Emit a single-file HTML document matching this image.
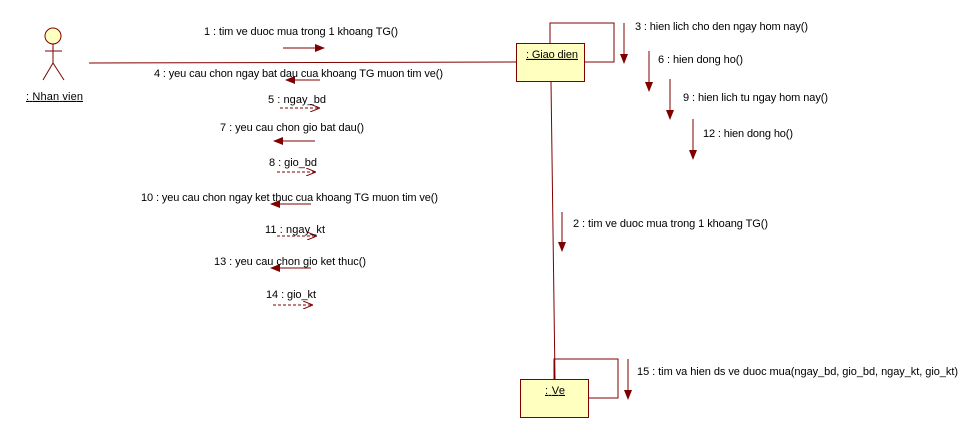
<!DOCTYPE html>
<html><head><style>body{margin:0;background:#fff}svg{display:block}text{font-family:"Liberation Sans",sans-serif;font-size:11px;fill:#000;dominant-baseline:middle}</style></head>
<body>
<svg width="978" height="438" viewBox="0 0 978 438">
<defs>
<marker id="f" markerWidth="10" markerHeight="8" refX="9" refY="4" orient="auto" markerUnits="userSpaceOnUse"><path d="M0,0 L10,4 L0,8 Z" fill="#800000"/></marker>
<marker id="o" markerWidth="10" markerHeight="8" refX="9" refY="4" orient="auto" markerUnits="userSpaceOnUse"><path d="M0,0 L10,4 L0,8" fill="none" stroke="#800000"/></marker>
</defs>
<g stroke="#800000" fill="none" stroke-width="1">
<!-- actor -->
<circle cx="53" cy="36" r="8" fill="#ffffc0"/>
<line x1="53" y1="44" x2="53" y2="63"/><line x1="45" y1="51" x2="62" y2="51"/>
<line x1="53" y1="63" x2="43" y2="80"/><line x1="53" y1="63" x2="64" y2="80"/>
<line x1="89" y1="63" x2="516" y2="62"/>
<!-- Giao dien -->
<rect x="516.5" y="43.5" width="68" height="38" fill="#ffffc0"/>
<path d="M550,43 V23 H614 V62 H585"/>
<line x1="551" y1="82" x2="555" y2="379"/>
<rect x="520.5" y="379.5" width="68" height="38" fill="#ffffc0"/>
<path d="M554,379 V359 H618 V398 H589"/>
<!-- messages -->
<line x1="283" y1="48" x2="324" y2="48" marker-end="url(#f)"/>
<line x1="320" y1="80" x2="286" y2="80" marker-end="url(#f)"/>
<line x1="280" y1="108" x2="319" y2="108" stroke-dasharray="3,2" marker-end="url(#o)"/>
<line x1="315" y1="141" x2="274" y2="141" marker-end="url(#f)"/>
<line x1="277" y1="172" x2="315" y2="172" stroke-dasharray="3,2" marker-end="url(#o)"/>
<line x1="311" y1="204" x2="271" y2="204" marker-end="url(#f)"/>
<line x1="277" y1="236" x2="316" y2="236" stroke-dasharray="3,2" marker-end="url(#o)"/>
<line x1="311" y1="268" x2="271" y2="268" marker-end="url(#f)"/>
<line x1="273" y1="305" x2="312" y2="305" stroke-dasharray="3,2" marker-end="url(#o)"/>
<line x1="624" y1="23" x2="624" y2="63" marker-end="url(#f)"/>
<line x1="649" y1="51" x2="649" y2="91" marker-end="url(#f)"/>
<line x1="670" y1="79" x2="670" y2="119" marker-end="url(#f)"/>
<line x1="693" y1="119" x2="693" y2="159" marker-end="url(#f)"/>
<line x1="562" y1="212" x2="562" y2="251" marker-end="url(#f)"/>
<line x1="628" y1="359" x2="628" y2="399" marker-end="url(#f)"/>
</g>
<text x="26" y="97" textLength="57" text-decoration="underline">: Nhan vien</text>
<text x="526" y="55" textLength="52" text-decoration="underline">: Giao dien</text>
<text x="545" y="391" textLength="20" text-decoration="underline">: Ve</text>
<text x="204" y="32" textLength="194">1 : tim ve duoc mua trong 1 khoang TG()</text>
<text x="154" y="74" textLength="289">4 : yeu cau chon ngay bat dau cua khoang TG muon tim ve()</text>
<text x="268" y="100" textLength="58">5 : ngay_bd</text>
<text x="220" y="128" textLength="144">7 : yeu cau chon gio bat dau()</text>
<text x="269" y="163" textLength="48">8 : gio_bd</text>
<text x="141" y="198" textLength="297">10 : yeu cau chon ngay ket thuc cua khoang TG muon tim ve()</text>
<text x="265" y="230" textLength="60">11 : ngay_kt</text>
<text x="214" y="262" textLength="152">13 : yeu cau chon gio ket thuc()</text>
<text x="266" y="295" textLength="50">14 : gio_kt</text>
<text x="635" y="27" textLength="173">3 : hien lich cho den ngay hom nay()</text>
<text x="658" y="60" textLength="85">6 : hien dong ho()</text>
<text x="683" y="98" textLength="145">9 : hien lich tu ngay hom nay()</text>
<text x="703" y="134" textLength="90">12 : hien dong ho()</text>
<text x="573" y="224" textLength="195">2 : tim ve duoc mua trong 1 khoang TG()</text>
<text x="637" y="372" textLength="321">15 : tim va hien ds ve duoc mua(ngay_bd, gio_bd, ngay_kt, gio_kt)</text>
</svg>
</body></html>
